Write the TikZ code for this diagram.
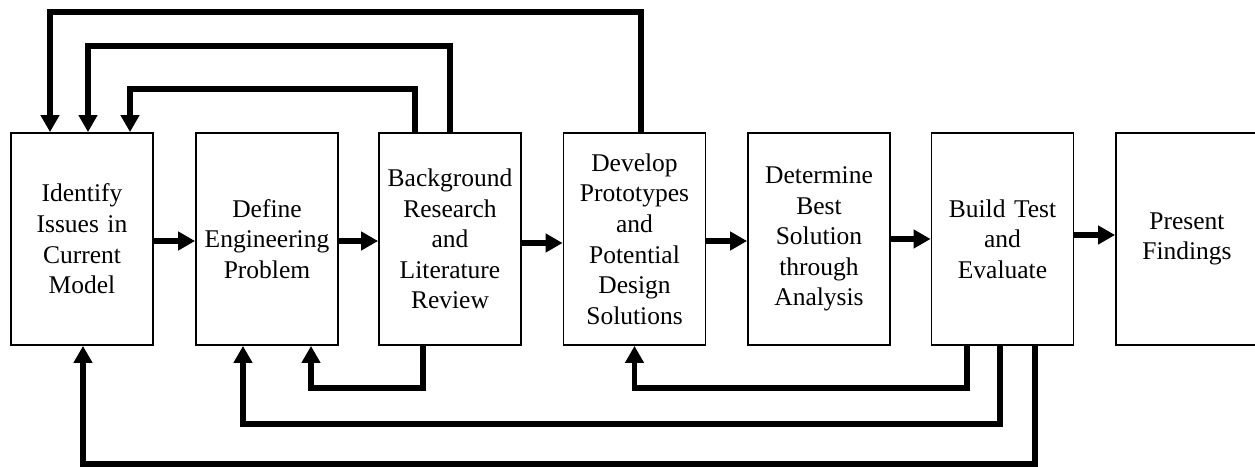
\documentclass[tikz,border=0pt]{standalone}
\usepackage{fontspec}
\setmainfont{Liberation Serif}
\usetikzlibrary{arrows.meta}
\begin{document}
\begin{tikzpicture}[x=1pt,y=1pt,
  stepbox/.style={draw=black, line width=1.8pt, minimum width=142pt, minimum height=212pt,
    inner sep=0pt, text width=140pt, align=center,
    font=\fontsize{25.5}{30.6}\selectfont},
  fb/.style={line width=5.5pt, -{Triangle[width=18pt,length=17pt]}}]
\useasboundingbox (0,0) rectangle (1255,466);
\fill[white] (0,0) rectangle (1255,466);
\node[stepbox] (b1) at (82,227) {Identify\\Issues in\\Current\\Model};
\node[stepbox] (b2) at (267,227) {Define\\Engineering\\Problem};
\node[stepbox] (b3) at (450,227) {Background\\Research\\and\\Literature\\Review};
\node[stepbox] (b4) at (634.5,227) {Develop\\Prototypes\\and\\Potential\\Design\\Solutions};
\node[stepbox] (b5) at (819,227) {Determine\\Best\\Solution\\through\\Analysis};
\node[stepbox] (b6) at (1002.5,227) {Build Test\\and\\Evaluate};
\node[stepbox] (b7) at (1187,227) {Present\\Findings};
% forward arrows
\draw[fb] ([yshift=-2pt]b1.east) -- ([yshift=-2pt]b2.west);
\draw[fb] ([yshift=-2pt]b2.east) -- ([yshift=-2pt]b3.west);
\draw[fb] ([yshift=-4pt]b3.east) -- ([yshift=-4pt]b4.west);
\draw[fb] ([yshift=-2pt]b4.east) -- ([yshift=-2pt]b5.west);
\draw[fb] ([yshift=0pt]b5.east) -- ([yshift=0pt]b6.west);
\draw[fb] ([yshift=4pt]b6.east) -- ([yshift=4pt]b7.west);
% top feedback loops
\draw[fb] ([xshift=6.5pt]b4.north) -- ++(0,120) -| ([xshift=-32pt]b1.north);
\draw[fb] ([xshift=0pt]b3.north) -- ++(0,86) -| ([xshift=6pt]b1.north);
\draw[fb] ([xshift=-35pt]b3.north) -- ++(0,43) -| ([xshift=48pt]b1.north);
% bottom feedback loops
\draw[fb] ([xshift=-27pt]b3.south) -- ++(0,-42) -| ([xshift=44pt]b2.south);
\draw[fb] ([xshift=-35.5pt]b6.south) -- ++(0,-42) -| ([xshift=0pt]b4.south);
\draw[fb] ([xshift=-2.5pt]b6.south) -- ++(0,-78) -| ([xshift=-24pt]b2.south);
\draw[fb] ([xshift=32.5pt]b6.south) -- ++(0,-118) -| ([xshift=1pt]b1.south);
\end{tikzpicture}
\end{document}
